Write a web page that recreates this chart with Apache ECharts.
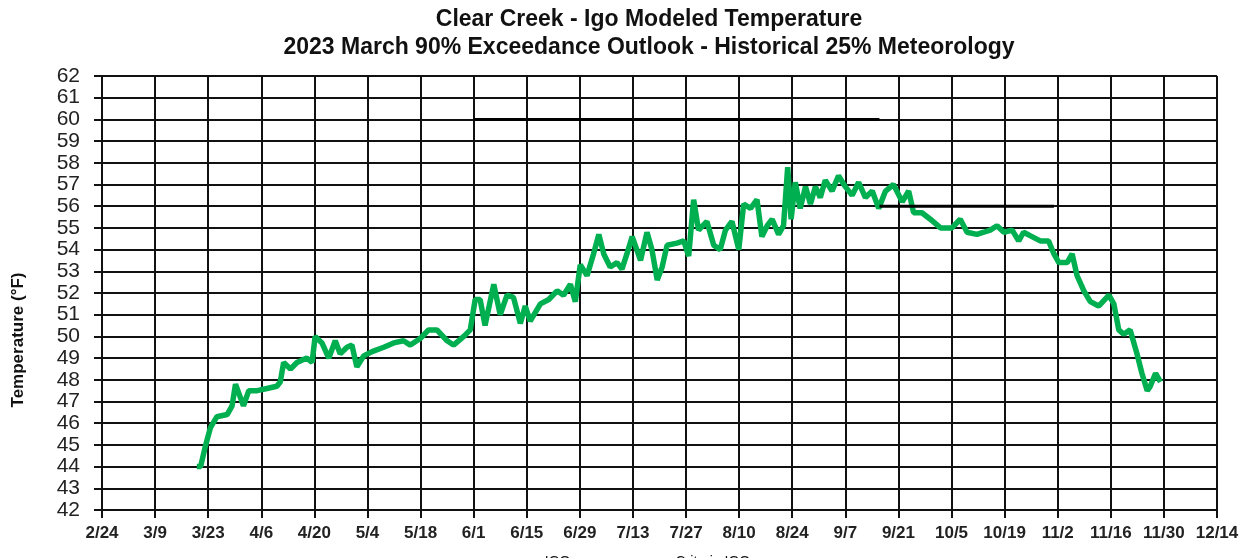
<!DOCTYPE html>
<html>
<head>
<meta charset="utf-8">
<script src="https://cdn.jsdelivr.net/npm/echarts@6/dist/echarts.min.js"></script>
<style>
  html, body { margin: 0; padding: 0; background: #fff; }
  #chart { width: 1250px; height: 558px; }
</style>
</head>
<body>
<div id="chart"></div>
<script>
// x values are days counted from 2/24
const tickLabels = ['2/24', '3/9', '3/23', '4/6', '4/20', '5/4', '5/18', '6/1', '6/15', '6/29', '7/13',
  '7/27', '8/10', '8/24', '9/7', '9/21', '10/5', '10/19', '11/2', '11/16', '11/30', '12/14']

const igoDays = [25, 26, 27.2, 28.6, 30.3, 33, 34.3, 35.2, 37.3, 38.7, 40.9, 43.5, 46.1, 47, 47.9, 49.7,
  51.4, 54, 55.4, 56.2, 58, 59.8, 61.5, 62.8, 64.6, 65.9, 67.2, 69, 71.2, 74.3, 76.9, 79.5, 81.3, 83.9,
  86.1, 88.3, 91, 92.7, 95.4, 97.1, 98.4, 99.7, 101, 103.3, 105, 106.8, 108.5, 110.3, 111.6, 112.9,
  115.6, 117.8, 120, 121.7, 123.5, 124.8, 126.1, 127.9, 129.6, 131, 132.3, 134, 135.8, 137.1, 138.4,
  139.8, 142, 143.7, 145, 146.4, 147.7, 149, 151.6, 153.4, 154.7, 156, 157.3, 159.5, 161.3, 163,
  164.4, 166.1, 167.9, 169.2, 171, 172.7, 174, 175.4, 176.7, 178.4, 179.7, 180.8, 181.7, 182.8, 184.1,
  185.5, 186.8, 188.1, 189.4, 190.7, 192.5, 194.2, 196, 197.8, 199.5, 201.3, 203.1, 204.8, 206.6,
  208.7, 211, 212.7, 214, 216.2, 218.4, 221.1, 224.1, 226.3, 228.1, 230.7, 232.5, 234.2, 236, 237.8,
  240, 241.7, 243, 245.2, 247.4, 249.6, 251, 252.3, 254.5, 255.8, 257.1, 258.9, 260.6, 262.8, 265.5,
  266.8, 268.1, 269.4, 271.1, 272.9, 274.2, 275.6, 276.4, 277.8, 279.1]
const igoTemps = [44.0, 44.0, 44.9, 45.8, 46.3, 46.4, 46.8, 47.8, 46.8, 47.5, 47.5, 47.6, 47.7, 47.9, 48.8, 48.5,
  48.8, 49.0, 48.8, 50.0, 49.7, 49.0, 49.8, 49.2, 49.5, 49.6, 48.6, 49.1, 49.3, 49.5, 49.7, 49.8, 49.6, 49.9,
  50.3, 50.3, 49.8, 49.6, 50.0, 50.3, 51.7, 51.7, 50.5, 52.4, 51.0, 51.9, 51.8, 50.6, 51.4, 50.7,
  51.5, 51.7, 52.1, 51.9, 52.4, 51.6, 53.3, 52.8, 53.8, 54.7, 53.8, 53.2, 53.4, 53.1, 53.8,
  54.6, 53.5, 54.8, 54.0, 52.6, 53.2, 54.2, 54.3, 54.4, 53.7, 56.3, 54.9, 55.3, 54.2, 54.0,
  54.9, 55.3, 54.0, 56.1, 55.9, 56.3, 54.6, 55.1, 55.4, 54.7, 55.1, 57.8, 55.4, 57.1, 55.9,
  56.9, 56.1, 56.9, 56.4, 57.2, 56.7, 57.4, 56.9, 56.5, 57.1, 56.4, 56.7, 55.9, 56.7,
  57.0, 56.2, 56.7, 55.7, 55.7, 55.4, 55.0, 55.0, 55.4, 54.8, 54.7, 54.8, 54.9, 55.1, 54.8,
  54.9, 54.4, 54.8, 54.6, 54.4, 54.4, 53.8, 53.4, 53.4, 53.8, 52.8, 52.1, 51.6, 51.4, 51.9,
  51.5, 50.3, 50.1, 50.3, 49.2, 48.3, 47.5, 47.7, 48.3, 47.9]

// criteria: 60 F from 6/1 to mid Sept, then 56 F to 11/1
const criteriaDays = [98, 205, 205, 205, 251]
const criteriaTemps = [60, 60, null, 56, 56]

const chart = echarts.init(document.getElementById('chart'))
const font = 'Liberation Sans, Arial, sans-serif'

const option = {
  animation: false,
  title: {
    text: 'Clear Creek - Igo Modeled Temperature\n2023 March 90% Exceedance Outlook - Historical 25% Meteorology',
    left: 644,
    textAlign: 'center',
    top: 1,
    textStyle: { fontFamily: font, fontSize: 23, fontWeight: 'bold', color: '#111', lineHeight: 28 }
  },
  legend: {
    bottom: -16,
    left: 'center',
    itemGap: 60,
    icon: 'path://M0,0 L40,0 L40,5 L0,5 Z',
    itemWidth: 40,
    itemHeight: 5,
    textStyle: { fontFamily: font, fontSize: 14, color: '#111' },
    data: ['IGO', 'Criteria IGO']
  },
  graphic: [{
    type: 'text',
    x: 18,
    y: 340,
    rotation: Math.PI / 2,
    style: {
      text: 'Temperature (°F)',
      fontFamily: font, fontSize: 17, fontWeight: 'bold', fill: '#111',
      align: 'center', verticalAlign: 'middle'
    }
  }],
  grid: { left: 102, right: 33, top: 76, bottom: 48 },
  xAxis: {
    type: 'value',
    min: 0,
    max: 294,
    interval: 14,
    axisLine: { show: true, lineStyle: { color: '#111', width: 2 } },
    axisTick: { show: true, length: 8, lineStyle: { color: '#111', width: 2 } },
    splitLine: { show: true, lineStyle: { color: '#111', width: 2 } },
    axisLabel: {
      fontFamily: font, fontSize: 17, fontWeight: 'bold', color: '#222', margin: 15,
      formatter: v => tickLabels[Math.round(v / 14)]
    }
  },
  yAxis: {
    type: 'value',
    min: 42,
    max: 62,
    interval: 1,
    axisLine: { show: true, lineStyle: { color: '#111', width: 2 } },
    axisTick: { show: true, length: 8, lineStyle: { color: '#111', width: 2 } },
    splitLine: { show: true, lineStyle: { color: '#111', width: 2 } },
    axisLabel: { fontFamily: font, fontSize: 21, color: '#222', margin: 22 }
  },
  series: [
    {
      name: 'IGO',
      type: 'line',
      showSymbol: false,
      color: '#00b050',
      lineStyle: { width: 5.5, color: '#00b050' },
      data: igoDays.map((d, i) => [d, igoTemps[i]])
    },
    {
      name: 'Criteria IGO',
      type: 'line',
      showSymbol: false,
      color: '#000',
      connectNulls: false,
      lineStyle: { width: 3, color: '#000' },
      data: criteriaDays.map((d, i) => [d, criteriaTemps[i]])
    }
  ]
}

chart.setOption(option)
window.addEventListener('resize', function () {
  chart.resize()
})
</script>
</body>
</html>
